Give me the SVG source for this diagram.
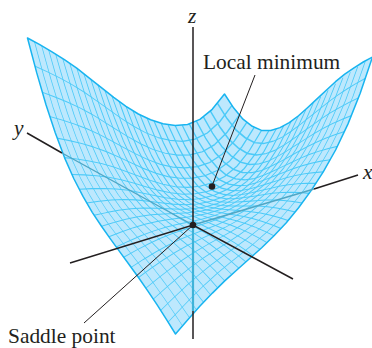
<svg xmlns="http://www.w3.org/2000/svg" xmlns:xlink="http://www.w3.org/1999/xlink" width="372" height="348" viewBox="0 0 372 348">
<style>
.g{fill:none;stroke:#4ccaf8;stroke-width:1;vector-effect:non-scaling-stroke;stroke-linejoin:round}
.e{fill:none;stroke:#18b4f0;stroke-width:1.5;vector-effect:non-scaling-stroke;stroke-linejoin:round}
.k{fill:none;stroke:#231f20;stroke-width:1.5}
.l{fill:none;stroke:#231f20;stroke-width:1}
.t{fill:none;stroke:#4fa6c4;stroke-width:1.4}
.txt{font-family:"Liberation Serif","Times New Roman",serif;font-size:21.4px;fill:#231f20}
.it{font-style:italic}
</style>
<defs>
<polyline id="cx" points="-74,0 -64.75,24.5 -55.5,46 -46.25,63.5 -37,78 -27.75,88.5 -18.5,96 -9.25,101.5 0,105 9.25,107.7 18.5,110 27.75,112.3 37,114.6 46.25,117.5 55.5,121 64.75,125 74,129.5"/>
<polyline id="cy" points="-98.5,121.25 -86.2,117.5 -73.9,114.2 -61.6,111.6 -49.25,109.8 -36.9,109 -24.6,108.5 -12.3,107.8 0,106.3 12.3,103.6 24.6,99 36.9,92.6 49.25,84 61.6,72.5 73.9,57 86.2,36.5 98.5,10.75"/>
</defs>
<g id="surface">
<path fill="#bde8fd" d="M27.5,38 L39.8,44.7 52,51.8 64.4,59.6 76.75,68.2 89,77.8 101.4,87.7 113.7,97.4 126,106.3 138.3,114 150.6,119.8 163,123.8 175.25,125.6 187.6,124.5 199.9,119.4 212.2,109.3 224.5,94 233.75,108.1 243,119.2 252.25,126.3 261.5,130.4 270.75,130.5 280,127.6 289.25,122.7 298.5,115.75 307.75,107.5 317,98.9 326.25,90.3 335.5,81.7 344.75,74.2 354,67.8 363.25,62 372.5,57 360.2,93.2 347.9,124.1 335.6,150 323.25,171.9 310.9,190.9 298.6,207.7 286.3,222.7 274,235.8 261.7,247.7 249.4,258.8 237.1,269.7 224.75,280.9 212.4,293.1 200,306.1 187.8,319.8 175.5,334 166.25,319.1 157,304.7 147.75,290.8 138.5,277.5 129.25,264.8 120,252.1 110.75,239.4 101.5,226.25 92.25,212.3 83,196.4 73.75,178.5 64.5,157.6 55.25,132.7 46,104.8 36.75,72.9 Z"/>
<g id="mesh-x" class="g">
<use href="#cx" transform="matrix(1,1.0446,0,1,108.5,119.1)"/>
<use href="#cx" transform="matrix(1,.9643,0,1,115.6,117)"/>
<use href="#cx" transform="matrix(1,.8839,0,1,122.6,115.1)"/>
<use href="#cx" transform="matrix(1,.8036,0,1,129.6,113.4)"/>
<use href="#cx" transform="matrix(1,.7232,0,1,136.7,112)"/>
<use href="#cx" transform="matrix(1,.6429,0,1,143.7,110.8)"/>
<use href="#cx" transform="matrix(1,.5625,0,1,150.8,109.8)"/>
<use href="#cx" transform="matrix(1,.4821,0,1,157.8,109.3)"/>
<use href="#cx" transform="matrix(1,.4018,0,1,164.8,108.9)"/>
<use href="#cx" transform="matrix(1,.3214,0,1,171.9,108.6)"/>
<use href="#cx" transform="matrix(1,.2411,0,1,178.9,108.3)"/>
<use href="#cx" transform="matrix(1,.1607,0,1,185.9,107.9)"/>
<use href="#cx" transform="matrix(1,.0804,0,1,193,107.2)"/>
<use href="#cx" transform="matrix(1,0,0,1,200,106.3)"/>
<use href="#cx" transform="matrix(1,-.0804,0,1,207,104.9)"/>
<use href="#cx" transform="matrix(1,-.1607,0,1,214.1,103)"/>
<use href="#cx" transform="matrix(1,-.2411,0,1,221.1,100.4)"/>
<use href="#cx" transform="matrix(1,-.3214,0,1,228.1,97.3)"/>
<use href="#cx" transform="matrix(1,-.4018,0,1,235.2,93.6)"/>
<use href="#cx" transform="matrix(1,-.4821,0,1,242.2,89.5)"/>
<use href="#cx" transform="matrix(1,-.5625,0,1,249.2,84)"/>
<use href="#cx" transform="matrix(1,-.6429,0,1,256.3,77.8)"/>
<use href="#cx" transform="matrix(1,-.7232,0,1,263.3,70.4)"/>
<use href="#cx" transform="matrix(1,-.8036,0,1,270.4,61.7)"/>
<use href="#cx" transform="matrix(1,-.8839,0,1,277.4,51.5)"/>
<use href="#cx" transform="matrix(1,-.9643,0,1,284.4,39.8)"/>
<use href="#cx" transform="matrix(1,-1.0446,0,1,291.5,26)"/>
</g>
<g id="mesh-y" class="g">
<use href="#cy" transform="matrix(1,.7607,0,1,133.4,19.8)"/>
<use href="#cy" transform="matrix(1,.6762,0,1,140.8,37.6)"/>
<use href="#cy" transform="matrix(1,.5916,0,1,148.2,53.5)"/>
<use href="#cy" transform="matrix(1,.5071,0,1,155.6,66.8)"/>
<use href="#cy" transform="matrix(1,.4226,0,1,163,78)"/>
<use href="#cy" transform="matrix(1,.3381,0,1,170.4,86.5)"/>
<use href="#cy" transform="matrix(1,.2536,0,1,177.8,93)"/>
<use href="#cy" transform="matrix(1,.169,0,1,185.2,98.4)"/>
<use href="#cy" transform="matrix(1,.0845,0,1,192.6,102.4)"/>
<use href="#cy" transform="matrix(1,0,0,1,200,105)"/>
<use href="#cy" transform="matrix(1,-.0845,0,1,207.4,107.2)"/>
<use href="#cy" transform="matrix(1,-.169,0,1,214.8,109.1)"/>
<use href="#cy" transform="matrix(1,-.2536,0,1,222.2,111)"/>
<use href="#cy" transform="matrix(1,-.3381,0,1,229.6,112.8)"/>
<use href="#cy" transform="matrix(1,-.4226,0,1,237,114.6)"/>
<use href="#cy" transform="matrix(1,-.5071,0,1,244.4,116.9)"/>
<use href="#cy" transform="matrix(1,-.5916,0,1,251.8,119.6)"/>
<use href="#cy" transform="matrix(1,-.6762,0,1,259.2,122.6)"/>
<use href="#cy" transform="matrix(1,-.7607,0,1,266.6,126)"/>
</g>
<path class="e" d="M27.5,38 L39.8,44.7 52,51.8 64.4,59.6 76.75,68.2 89,77.8 101.4,87.7 113.7,97.4 126,106.3 138.3,114 150.6,119.8 163,123.8 175.25,125.6 187.6,124.5 199.9,119.4 212.2,109.3 224.5,94 233.75,108.1 243,119.2 252.25,126.3 261.5,130.4 270.75,130.5 280,127.6 289.25,122.7 298.5,115.75 307.75,107.5 317,98.9 326.25,90.3 335.5,81.7 344.75,74.2 354,67.8 363.25,62 372.5,57 360.2,93.2 347.9,124.1 335.6,150 323.25,171.9 310.9,190.9 298.6,207.7 286.3,222.7 274,235.8 261.7,247.7 249.4,258.8 237.1,269.7 224.75,280.9 212.4,293.1 200,306.1 187.8,319.8 175.5,334 166.25,319.1 157,304.7 147.75,290.8 138.5,277.5 129.25,264.8 120,252.1 110.75,239.4 101.5,226.25 92.25,212.3 83,196.4 73.75,178.5 64.5,157.6 55.25,132.7 46,104.8 36.75,72.9 Z"/>
</g>
<g id="connectors">
<path class="t" d="M62,153 L193,225 M314,189 L193,225"/>
<path fill="none" stroke="#3fb3d8" stroke-width="2.2" d="M193,225 V311"/>
<path class="k" d="M193,27 V225 M193,311 V339 M27,133 L62,153 M314,189 L358,175 M70,263 L193,225 L293,279"/>
<path class="l" d="M255,75 L212,186 M84,323 L193,225"/>
</g>
<g id="saddle-point"><circle cx="193" cy="225" r="3.3" fill="#231f20"/><text class="txt" x="8" y="343">Saddle point</text></g>
<g id="local-minimum"><circle cx="212" cy="186.500" r="3.3" fill="#231f20"/><text class="txt" x="203" y="69">Local minimum</text></g>
<g id="axis-labels">
<text class="txt it" x="188" y="23">z</text>
<text class="txt it" x="14" y="135">y</text>
<text class="txt it" x="363" y="179">x</text>
</g>
</svg>
